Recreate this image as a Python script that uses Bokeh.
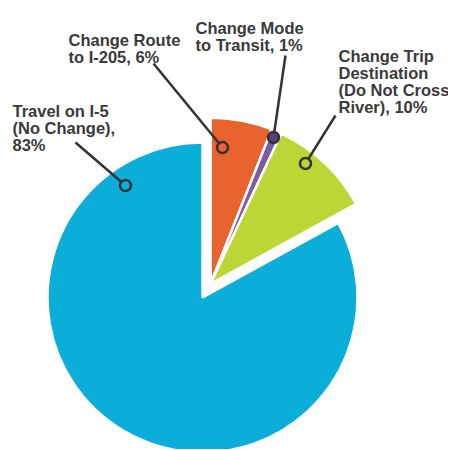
import math
from bokeh.plotting import figure
from bokeh.models import Range1d, ColumnDataSource
from bokeh.core.properties import value
from bokeh.embed import file_html
from bokeh.resources import INLINE

# ---- data ----
categories = ["Travel on I-5 (No Change)", "Change Route to I-205",
              "Change Mode to Transit", "Change Trip Destination (Do Not Cross River)"]
shares = [83, 6, 1, 10]
colors = ["#0BAED9", "#E8632D", "#7E5C9E", "#BDD535"]
dot_colors = ["#0BAED9", "#E8632D", "#5B3E7E", "#BDD535"]
label_lines = [["Travel on I-5", "(No Change),", "83%"],
               ["Change Route", "to I-205, 6%"],
               ["Change Mode", "to Transit, 1%"],
               ["Change Trip", "Destination", "(Do Not Cross", "River), 10%"]]
exploded = [False, True, True, True]

# ---- layout (pixel-like coordinates; y measured from page top) ----
W, H = 448, 449
X0, Y0 = 0, 0   # page offset of the plot


def Y(y_img):
    return 450 - y_img


cx, cy = 202, Y(297)
r_main, r_expl = 155, 166
explode_dist = 16

# leader lines: (text-side point, dot point) in image pixels
leaders = [((75, 142), (125, 185)),
           ((153, 63), (222, 147)),
           ((285, 55), (273, 137)),
           ((335, 115), (305, 163))]
# first baseline of each label and its left x
label_pos = [(12, 110), (68, 39.5), (195, 27), (338, 55)]
line_step = 17

p = figure(width=W, height=H, output_backend="svg", toolbar_location=None,
           x_range=Range1d(X0, X0 + W), y_range=Range1d(Y(Y0 + H), Y(Y0)),
           min_border=0)
p.axis.visible = False
p.grid.visible = False
p.outline_line_color = None
p.background_fill_color = "white"

# angles: go clockwise from 12 o'clock through the small slices, blue takes the rest
order_cw = [1, 2, 3, 0]
a = 90.0
starts, ends = [0] * 4, [0] * 4
for i in order_cw:
    ends[i] = a
    starts[i] = a - 360.0 * shares[i] / sum(shares)
    a = starts[i]

ex_idx = [i for i in range(4) if exploded[i]]
grp_start = min(starts[i] for i in ex_idx)
grp_end = max(ends[i] for i in ex_idx)
mid = math.radians((grp_start + grp_end) / 2)
ox, oy = explode_dist * math.cos(mid), explode_dist * math.sin(mid)

xs, ys, rs, sa, ea, cs = [], [], [], [], [], []
for i in range(4):
    if exploded[i]:
        xs.append(cx + ox); ys.append(cy + oy); rs.append(r_expl)
    else:
        xs.append(cx); ys.append(cy); rs.append(r_main)
    sa.append(math.radians(starts[i])); ea.append(math.radians(ends[i]))
    cs.append(colors[i])

src = ColumnDataSource(dict(x=xs, y=ys, r=rs, sa=sa, ea=ea, c=cs, cat=categories))
p.wedge(x="x", y="y", radius="r", start_angle="sa", end_angle="ea",
        direction="anticlock", fill_color="c", line_color="white",
        line_width=2.5, source=src)

# leader lines and dots
for i, ((x0, y0), (x1, y1)) in enumerate(leaders):
    p.line([x0, x1], [Y(y0), Y(y1)], line_color="#333333", line_width=2.5)
    p.scatter([x1], [Y(y1)], size=11, marker="circle", fill_color=dot_colors[i],
              line_color="#333333", line_width=2.5)

# labels
tx, ty, tt = [], [], []
for i, lines in enumerate(label_lines):
    x0, yb = label_pos[i]
    for k, s in enumerate(lines):
        tx.append(x0); ty.append(Y(yb + k * line_step)); tt.append(s)
p.text(x=tx, y=ty, text=tt, text_font=value("Liberation Sans"),
       text_font_style="bold", text_font_size="16.5px", text_color="#3a3a3a",
       text_baseline="alphabetic", text_align="left")

open("out.html", "w").write(file_html(p, INLINE))
